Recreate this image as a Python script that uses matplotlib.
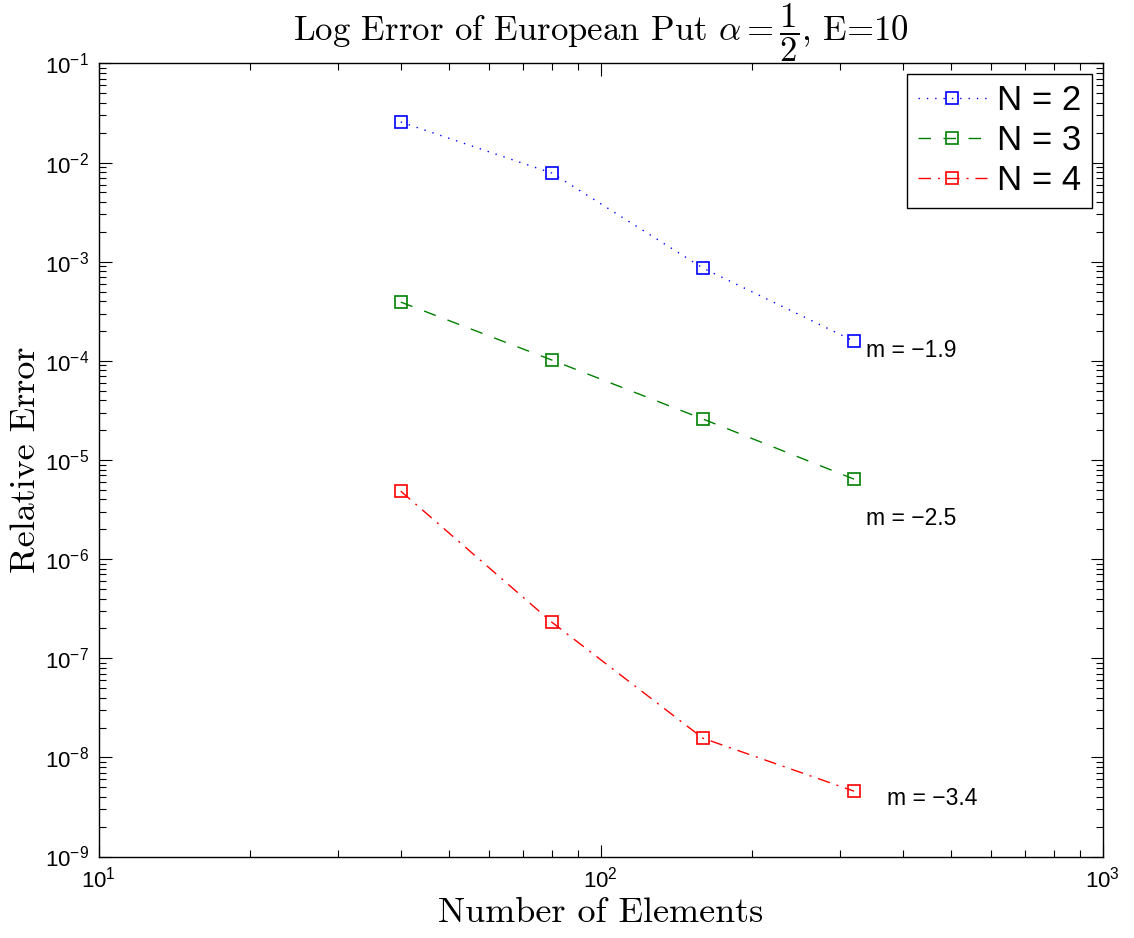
import matplotlib
matplotlib.use("Agg")
import matplotlib.pyplot as plt

plt.rcParams['font.family'] = ['Liberation Sans', 'DejaVu Sans']
plt.rcParams['mathtext.fontset'] = 'custom'
plt.rcParams['mathtext.rm'] = 'Liberation Sans'
plt.rcParams['mathtext.it'] = 'Liberation Sans:italic'
plt.rcParams['mathtext.bf'] = 'Liberation Sans:bold'

elements = [40, 80, 160, 320]
err_n2 = [2.57e-2, 7.85e-3, 8.63e-4, 1.58e-4]
err_n3 = [3.92e-4, 1.02e-4, 2.59e-5, 6.41e-6]
err_n4 = [4.85e-6, 2.31e-7, 1.56e-8, 4.56e-9]
labels = ['N = 2', 'N = 3', 'N = 4']
slopes = ['m = \u22121.9', 'm = \u22122.5', 'm = \u22123.4']

fig = plt.figure(figsize=(11.34, 9.38), dpi=100)
ax = fig.add_axes([98.5/1134, 1 - 856.5/938, (1102.5 - 98.5)/1134, (856.5 - 63.5)/938])

ms = 9
ax.plot(elements, err_n2, color=(0, 0, 1), linestyle=(0, (1, 5)), linewidth=1.0,
        marker='s', markersize=ms, markerfacecolor='none', markeredgewidth=1.2, label=labels[0])
ax.plot(elements, err_n3, color=(0, 0.5, 0), linestyle=(0, (9, 9)), linewidth=1.0,
        marker='s', markersize=ms, markerfacecolor='none', markeredgewidth=1.2, label=labels[1])
ax.plot(elements, err_n4, color=(1, 0, 0), linestyle=(0, (9, 5, 1.5, 5)), linewidth=1.0,
        marker='s', markersize=ms, markerfacecolor='none', markeredgewidth=1.2, label=labels[2])

ax.set_xscale('log')
ax.set_yscale('log')
ax.set_xlim(10, 1000)
ax.set_ylim(1e-9, 1e-1)

ax.tick_params(which='both', direction='in', top=True, right=True, labelsize=16, pad=7)
ax.tick_params(which='major', length=9, width=0.8)
ax.tick_params(which='minor', length=5, width=0.8)
for s in ax.spines.values():
    s.set_linewidth(1.0)

ax.text(338, 1.26e-4, slopes[0], fontsize=16.5, va='center', ha='left')
ax.text(338, 2.54e-6, slopes[1], fontsize=16.5, va='center', ha='left')
ax.text(372, 3.87e-9, slopes[2], fontsize=16.5, va='center', ha='left')

ax.set_title(r'Log Error of European Put $\alpha = \dfrac{1}{2}$, E=10',
             fontfamily='cmr10', math_fontfamily='cm', fontsize=25, pad=12)
ax.set_xlabel('Number of Elements', fontfamily='cmr10', fontsize=26, labelpad=4)
ax.set_ylabel('Relative Error', fontfamily='cmr10', fontsize=26, labelpad=2)

leg = ax.legend(loc='upper right', fontsize=25, fancybox=False, framealpha=1,
                edgecolor='black', borderaxespad=0.3, labelspacing=0.2,
                handlelength=2.0, handletextpad=0.3, borderpad=0.3)
leg.get_frame().set_linewidth(1.0)

fig.savefig('out.png', dpi=100)
